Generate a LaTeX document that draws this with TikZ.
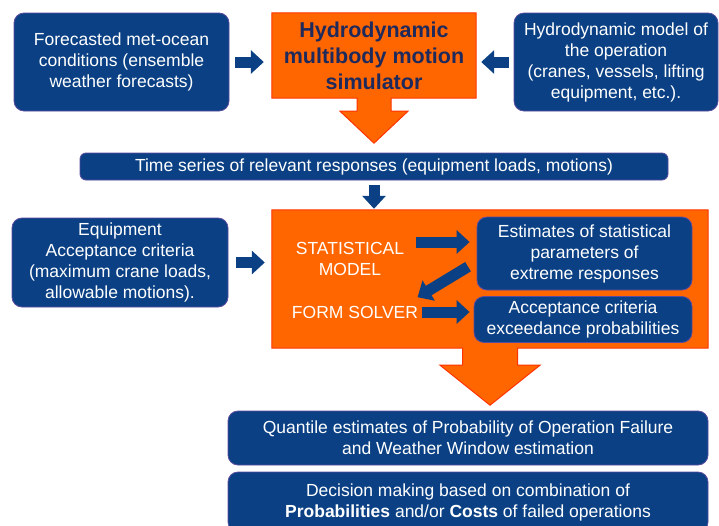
\documentclass[tikz,border=0pt]{standalone}
\usepackage{fontspec}
\setmainfont{Liberation Sans}
\usetikzlibrary{arrows.meta,positioning,backgrounds}
\definecolor{navy}{HTML}{0B4184}
\definecolor{navyline}{HTML}{5A4AA0}
\definecolor{orng}{HTML}{FF6600}
\definecolor{orngline}{HTML}{FF3300}
\definecolor{titleink}{HTML}{1F2A5C}
\newcommand{\txt}{\fontsize{17.5}{21}\selectfont}
\newcommand{\ttl}{\fontsize{21.5}{26}\selectfont\bfseries}

\begin{document}
\begin{tikzpicture}[
  x=1pt, y=-1pt,
  box/.style={draw=navyline, fill=navy, rounded corners=10pt, text=white, align=center,
              font=\txt, line width=0.8pt, inner sep=0pt},
  orng/.style={draw=orngline, fill=orng, line width=1pt},
  lbl/.style={text=white, align=center, font=\txt},
  blk/.style={navy, line width=11pt, -{Triangle[length=13pt,width=23pt]}}
]
\useasboundingbox (0,0) rectangle (719,525);

% top row
\node[box, minimum width=215pt, minimum height=98pt] (fore) at (121.5,62)
  {Forecasted met-ocean\\conditions (ensemble\\weather forecasts)};
\node[font=\ttl, text=titleink, align=center, minimum width=204pt, minimum height=85pt] (sim) at (374,55.5)
  {Hydrodynamic\\multibody motion\\simulator};
\node[box, minimum width=204pt, minimum height=98pt] (model) at (616,62)
  {Hydrodynamic model of\\the operation\\(cranes, vessels, lifting\\equipment, etc.).};

\node[box, minimum width=588pt, minimum height=27pt, rounded corners=6pt] (ts) at (374,166.5)
  {Time series of relevant responses (equipment loads, motions)};

% middle row
\node[box, minimum width=216pt, minimum height=89pt] (equip) at (120,262.5)
  {Equipment\\Acceptance criteria\\(maximum crane loads,\\allowable motions).};
\node[minimum width=436pt, minimum height=138pt] (stat) at (490,279) {};
\node[lbl] (sm) at (350,259) {STATISTICAL\\MODEL};
\node[lbl] (fs) at (355,312) {FORM SOLVER};
\node[box, minimum width=215pt, minimum height=73pt] (est) at (584.5,253.5)
  {Estimates of statistical\\parameters of\\extreme responses};
\node[box, minimum width=218pt, minimum height=46pt] (acc) at (583,319.5)
  {Acceptance criteria\\exceedance probabilities};

% bottom
\node[box, minimum width=480pt, minimum height=54pt] (quant) at (468,438)
  {Quantile estimates of Probability of Operation Failure\\and Weather Window estimation};
\begin{scope}
  \clip (0,0) rectangle (719,525);
  \node[box, minimum width=480pt, minimum height=60pt] (dec) at (468,502)
    {Decision making based on combination of\\\textbf{Probabilities} and/or \textbf{Costs} of failed operations};
\end{scope}

\begin{scope}[on background layer]
  \draw[orng] (sim.north west) -- (sim.north east) -- (sim.south east)
    -- ([xshift=17pt]sim.south) -- ++(0,13) -- ++(17,0) -- ++(-34,32) -- ++(-34,-32)
    -- ++(17,0) -- ++(0,-13) -- (sim.south west) -- cycle;
  \draw[orng] (stat.north west) -- (stat.north east) -- (stat.south east)
    -- ([xshift=27.5pt]stat.south) -- ++(0,17) -- ++(22.5,0) -- ++(-50,40) -- ++(-50,-40)
    -- ++(22.5,0) -- ++(0,-17) -- (stat.south west) -- cycle;
\end{scope}

\draw[blk, shorten <=6pt, shorten >=8pt] (fore.east) -- (fore.east -| sim.west);
\draw[blk, shorten <=5pt, shorten >=5pt] (model.west) -- (model.west -| sim.east);
\draw[blk, shorten <=5pt, shorten >=1pt] (ts.south) -- (ts.south |- stat.north);
\draw[blk, shorten <=8pt, shorten >=7pt] (equip.east) -- (equip.east -| stat.west);
\draw[blk, shorten <=8pt, shorten >=7pt] ([yshift=17pt]sm.east) -- ([yshift=17pt]sm.east -| est.west);
\draw[blk, shorten <=10pt] ([yshift=-8pt]est.west) -- ([shift={(-4pt,5pt)}]fs.north east);
\draw[blk, shorten >=4pt] (fs.east) -- (fs.east -| acc.west);
\end{tikzpicture}
\end{document}
